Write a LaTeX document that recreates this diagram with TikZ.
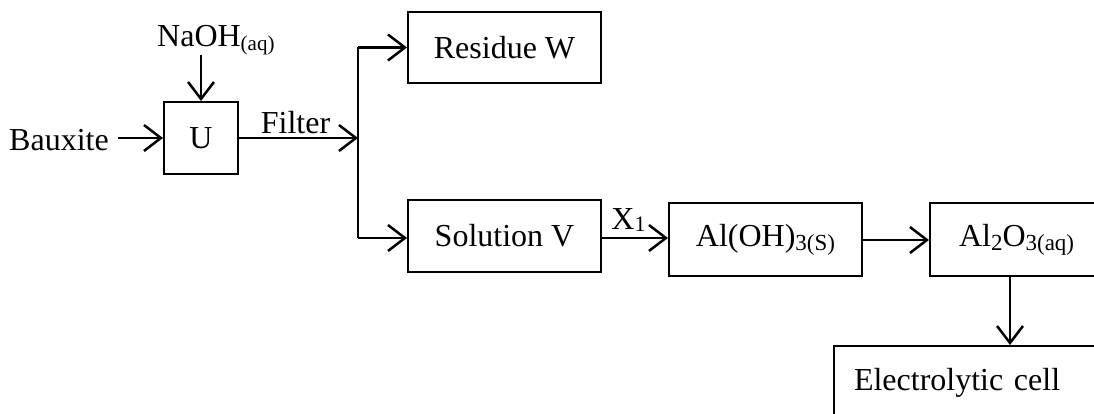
\documentclass[tikz,border=0pt]{standalone}
\usepackage{fontspec}
\setmainfont{Liberation Serif}
\usetikzlibrary{arrows.meta,calc}
\newcommand{\sbs}[3][-4pt]{\raisebox{#1}{\fontsize{#2}{#2}\selectfont #3}}
\begin{document}
\begin{tikzpicture}[x=1pt,y=-1pt,
  every node/.style={font=\fontsize{32}{32}\selectfont},
  box/.style={draw,line width=2pt,inner sep=0pt},
  arr/.style={line width=2.5pt,-{Straight Barb[length=17pt,width=26pt,line width=2.5pt]}},
  ln/.style={line width=2.5pt}]
\useasboundingbox (0,0) rectangle (1094,414);
\clip (0,0) rectangle (1094,414);
\node[inner sep=0pt] (baux) at (59,140) {Bauxite};
\node[box,minimum width=74pt,minimum height=72pt] (U) at (201,138) {U};
\node[anchor=base west,inner sep=0pt] (naoh) at (157,47) {NaOH\sbs{21}{(aq)}};
\coordinate (ntop) at (201,55);
\coordinate (bx) at (118,138);
\draw[arr] (bx) -- (U.west);
\draw[arr] (ntop) -- (U.north);
\coordinate (j) at (358,138);
\draw[arr] (U.east) -- (j) node[midway,above=3pt,inner sep=0pt,xshift=-3pt] (filt) {Filter};
\node[box,minimum width=193pt,minimum height=71pt] (W) at (504.5,47.5) {Residue W};
\node[box,minimum width=193pt,minimum height=72pt] (V) at (504.5,236) {Solution V};
\coordinate (jt) at (358,47.5);
\coordinate (jb) at (358,238);
\draw[ln] (jt) -- (jb);
\draw[arr] (jt) -- (jt -| W.west);
\draw[arr] (jb) -- (jb -| V.west);
\node[box,minimum width=193pt,minimum height=73pt] (A) at (765.5,239.5) {Al(OH)\sbs{23}{3(S)}};
\coordinate (vx) at (601,238);
\draw[arr] (vx) -- (vx -| A.west) node[midway,above=5pt,inner sep=0pt,xshift=-6pt] (x1) {X\sbs[-2pt]{22}{1}};
\node[box,anchor=west,minimum height=73pt,text width=170pt,align=left,inner xsep=29pt] (B) at (929,239.5) {Al\sbs{23}{2}O\sbs{23}{3(aq)}};
\coordinate (ax) at (862,240);
\draw[arr] (ax) -- (ax -| B.west);
\node[box,anchor=north west,minimum height=74pt,text width=250pt,align=left,inner xsep=20pt] (E) at (833,345) {Electrolytic cell};
\coordinate (bd) at (1010,276);
\draw[arr] (bd) -- (bd |- E.north);
\end{tikzpicture}
\end{document}
